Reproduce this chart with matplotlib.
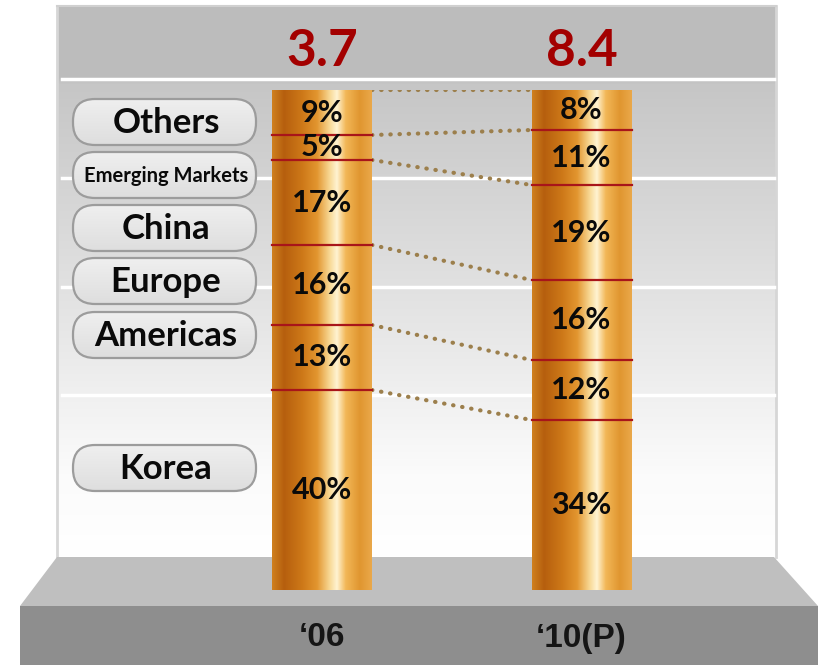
import numpy as np
import matplotlib
matplotlib.use("Agg")
import matplotlib.pyplot as plt
from matplotlib.colors import LinearSegmentedColormap
from matplotlib.patches import FancyBboxPatch, Polygon

# regional sales mix, top segment first
regions = ["Others", "Emerging Markets", "China", "Europe", "Americas", "Korea"]
years = ["\u201806", "\u201810(P)"]
share_06 = [9, 5, 17, 16, 13, 40]
share_10 = [8, 11, 19, 16, 12, 34]
totals = [3.7, 8.4]

W, H = 819, 665
fig = plt.figure(figsize=(W / 100, H / 100), dpi=100)
fig.patch.set_facecolor("white")

# ---- backdrop: wall, grid stripes, floor (pixel coordinates) ----
bg = fig.add_axes([0, 0, 1, 1])
bg.set_xlim(0, W)
bg.set_ylim(H, 0)
bg.axis("off")

wall = np.linspace(0, 1, 256).reshape(-1, 1)
wall_cmap = LinearSegmentedColormap.from_list(
    "wall", [(0, "#bcbcbc"), (0.13, "#bdbdbd"), (0.14, "#c6c6c6"),
             (0.55, "#e4e4e4"), (0.85, "#fbfbfb"), (1, "#ffffff")])
bg.imshow(wall, extent=[57, 776, 557, 6], aspect="auto", cmap=wall_cmap, zorder=0)
bg.plot([57, 57], [6, 557], color="#d6d6d6", lw=2, zorder=1)
bg.plot([776, 776], [6, 557], color="#d6d6d6", lw=2, zorder=1)
bg.plot([57, 776], [6, 6], color="#d0d0d0", lw=1.5, zorder=1)
for y in [79, 178, 287, 395]:
    bg.plot([62, 774], [y, y], color="white", lw=2.5, zorder=1)

bg.add_patch(Polygon([[57, 557], [774, 557], [818, 606], [20, 606]],
                     closed=True, facecolor="#bfbfbf", edgecolor="none", zorder=1))
bg.add_patch(Polygon([[20, 606], [818, 606], [818, 665], [20, 665]],
                     closed=True, facecolor="#8e8e8e", edgecolor="none", zorder=1))

# region name pills on the left
pill_y = [122, 175, 228, 281, 335, 468]
pill_size = [25, 14.5, 25, 25, 25, 25]
pill_cmap = LinearSegmentedColormap.from_list("pill", ["#efefef", "#dedede"])
for name, y, fs in zip(regions, pill_y, pill_size):
    box = FancyBboxPatch((73, y - 23), 183, 46,
                         boxstyle="round,pad=0,rounding_size=22",
                         facecolor="none", edgecolor="#9c9c9c", lw=1.6, zorder=4)
    bg.add_patch(box)
    fill = bg.imshow(np.linspace(0, 1, 64).reshape(-1, 1),
                     extent=[73, 256, y + 23, y - 23], aspect="auto",
                     cmap=pill_cmap, zorder=3)
    fill.set_clip_path(box)
    bg.text(166, y + 1, name, ha="center", va="center", fontsize=fs,
            fontfamily="Lato", fontweight="bold", color="#0a0a0a", zorder=5)
bg.set_xlim(0, W)
bg.set_ylim(H, 0)

# ---- stacked columns ----
ax = fig.add_axes([0, (H - 590) / H, 1, 500 / H])
ax.patch.set_alpha(0)
ax.axis("off")
unit = 259.5
x = np.arange(len(years))
bar_w = 100 / unit

copper = LinearSegmentedColormap.from_list(
    "copper_tube",
    [(0, "#cf801f"), (0.12, "#b65f0e"), (0.3, "#cd7818"), (0.45, "#e2952f"),
     (0.58, "#f8d996"), (0.65, "#fff3d2"), (0.74, "#f2b757"), (0.88, "#e09630"),
     (1, "#eaa84a")])
grad = np.linspace(0, 1, 256).reshape(1, -1)

shares = [share_06, share_10]
boundaries = []
for i, vals in enumerate(shares):
    tops = 100 - np.cumsum([0] + vals[:-1])
    bottoms = tops - np.array(vals)
    bars = ax.bar([x[i]] * len(vals), vals, bottom=bottoms, width=bar_w,
                  color="none", edgecolor="none", zorder=3)
    for patch in bars.patches:
        px, py = patch.get_xy()
        im = ax.imshow(grad, extent=[px, px + patch.get_width(), py, py + patch.get_height()],
                       aspect="auto", cmap=copper, zorder=2)
        im.set_clip_path(patch)
    # red separators between segments
    for b in bottoms[:-1]:
        ax.plot([x[i] - bar_w / 2, x[i] + bar_w / 2], [b, b],
                color="#a8151a", lw=1.6, zorder=4)
    for v, t, b in zip(vals, tops, bottoms):
        ax.text(x[i], (t + b) / 2, f"{v}%", ha="center", va="center",
                fontsize=22, fontfamily="Lato", fontweight="bold",
                color="#0a0a0a", zorder=5)
    boundaries.append(list(tops))
    ax.annotate(f"{totals[i]}", (x[i], 100), xytext=(0, 17),
                textcoords="offset points", ha="center", va="baseline",
                fontsize=37, fontfamily="Lato", fontweight="bold",
                color="#a30000", zorder=5)
    ax.text(x[i], -0.096, years[i], transform=ax.get_xaxis_transform(),
            ha="center", va="center", fontsize=24, fontfamily="Liberation Sans",
            fontweight="bold", color="#151515", zorder=5)

# dotted connectors between matching segment boundaries
for y0, y1 in zip(boundaries[0], boundaries[1]):
    ax.plot([x[0] + bar_w / 2, x[1] - bar_w / 2], [y0, y1],
            linestyle=(0, (0.1, 2.1)), dash_capstyle="round",
            color="#9c7f4c", lw=3, zorder=1)

ax.set_xlim(-322 / unit, (W - 322) / unit)
ax.set_ylim(0, 100)

fig.savefig("out.png", dpi=100)
